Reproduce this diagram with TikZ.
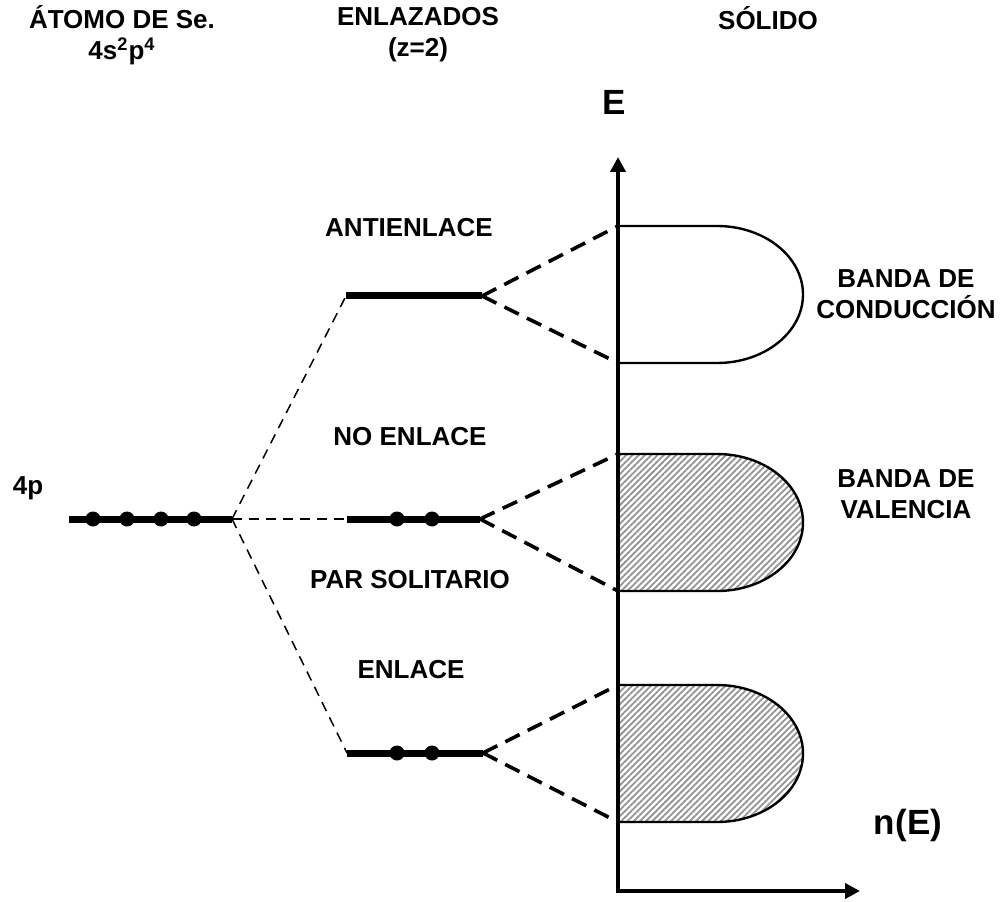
\documentclass[tikz,border=0pt]{standalone}
\usepackage{fontspec}
\setmainfont{Liberation Sans}
\usetikzlibrary{arrows.meta,patterns.meta}

\begin{document}
\begin{tikzpicture}[x=0.5pt,y=0.5pt,>={Triangle[length=7.5pt,width=7.5pt]},
  lbl/.style={font=\fontsize{13}{15.5}\selectfont\bfseries,align=center,inner sep=0pt},
  big/.style={font=\fontsize{17.5}{20}\selectfont\bfseries,inner sep=0pt},
  lvl/.style={line width=3.5pt},
  thindash/.style={line width=0.75pt,dash pattern=on 5pt off 3.5pt},
  thickdash/.style={line width=1.8pt,dash pattern=on 8pt off 4.5pt},
  band/.style={line width=1.2pt,fill=white},
  fullband/.style={band,pattern={Lines[angle=45,distance=2.2pt,line width=0.9pt]},pattern color=gray!85}]
\useasboundingbox (0,0) rectangle (1001,901);

% column headings
\node[lbl] (t1) at (122,866) {ÁTOMO DE Se.\\4s\textsuperscript{2}p\textsuperscript{4}};
\node[lbl] (t2) at (418,866) {ENLAZADOS\\(z=2)};
\node[lbl] (t3) at (768,883) {SÓLIDO};

% density of states: three bands against the energy axis
\draw[band] (618,675) coordinate (cb-t) -- (717,675) arc[start angle=90,end angle=-90,x radius=86,y radius=68.5] -- (618,538) coordinate (cb-b);
\draw[fullband] (618,447) coordinate (vb-t) -- (717,447) arc[start angle=90,end angle=-90,x radius=86,y radius=68.5] -- (618,310) coordinate (vb-b);
\draw[fullband] (618,216) coordinate (lb-t) -- (717,216) arc[start angle=90,end angle=-90,x radius=86,y radius=68.5] -- (618,79) coordinate (lb-b);

% axes
\coordinate (ey) at (618,744);
\coordinate (ex) at (860,10);
\draw[line width=2pt,<->] (ey) |- (ex);
\node[big] (E) at (614,799) {E};
\node[big] (nE) at (908,76) {n(E)};

% atomic level
\draw[lvl] (69,382) coordinate (p-l) -- (232,382) coordinate (p-r);
\foreach \x in {93,127,161,194} \fill (\x,382) circle (7.5);
\node[lbl] (p) at (28,413) {4p};

% molecular levels
\draw[lvl] (346,605) coordinate (a-l) -- (482,605) coordinate (a-r);
\draw[lvl] (347,382) coordinate (n-l) -- (480,382) coordinate (n-r);
\draw[lvl] (347,148) coordinate (b-l) -- (483,148) coordinate (b-r);
\foreach \x in {397,432} {\fill (\x,382) circle (7.5); \fill (\x,148) circle (7.5);}

\node[lbl] (l1) at (409,673) {ANTIENLACE};
\node[lbl] (l2) at (410,464) {NO ENLACE};
\node[lbl] (l3) at (410,321) {PAR SOLITARIO};
\node[lbl] (l4) at (411,231) {ENLACE};
\node[lbl] (l5) at (906,607) {BANDA DE\\CONDUCCIÓN};
\node[lbl] (l6) at (906,407) {BANDA DE\\VALENCIA};

% splitting of the 4p level
\draw[thindash] (p-r) -- (a-l);
\draw[thindash] (p-r) -- (n-l);
\draw[thindash] (p-r) -- (b-l);

% broadening into bands
\draw[thickdash] (a-r) -- (cb-t);\draw[thickdash] (a-r) -- (cb-b);
\draw[thickdash] (n-r) -- (vb-t);\draw[thickdash] (n-r) -- (vb-b);
\draw[thickdash] (b-r) -- (lb-t);\draw[thickdash] (b-r) -- (lb-b);
\end{tikzpicture}
\end{document}
